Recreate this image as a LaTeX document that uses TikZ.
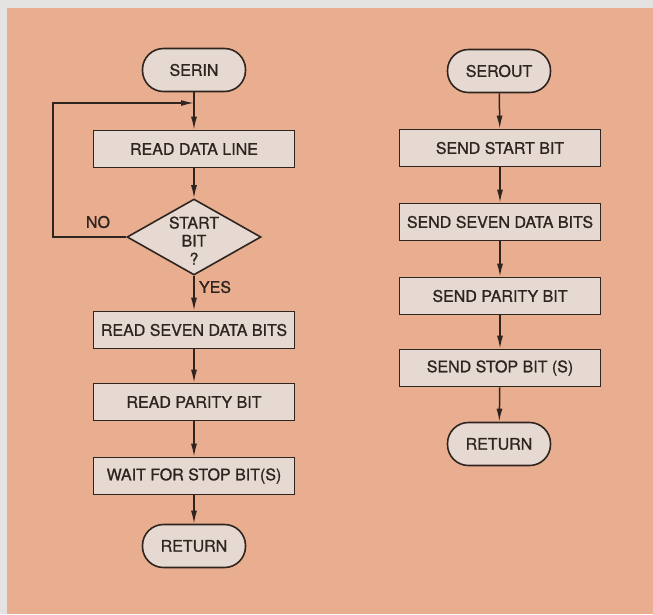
\documentclass[tikz,border=0pt]{standalone}
\usepackage{fontspec}
\setmainfont{TeX Gyre Heros}
\newfontfamily\letterfont{TeX Gyre Heros}[FakeBold=1]
\usetikzlibrary{arrows.meta, positioning, shapes.geometric}
\definecolor{pagegray}{HTML}{E5E3E1}
\definecolor{salmon}{HTML}{E9AE8F}
\definecolor{boxfill}{HTML}{E6D9D1}
\definecolor{inkdark}{HTML}{2E2420}

\tikzset{
  procbox/.style={draw=inkdark, fill=boxfill, line width=1.6pt, minimum width=201pt,
    minimum height=37pt, inner sep=0pt, text=inkdark, font=\letterfont\fontsize{16}{18.5}\selectfont},
  termbox/.style={draw=inkdark, fill=boxfill, line width=1.6pt, rounded corners=21pt,
    minimum width=103pt, minimum height=43pt, inner sep=0pt, text=inkdark,
    font=\letterfont\fontsize{16}{18.5}\selectfont},
  decbox/.style={diamond, draw=inkdark, fill=boxfill, line width=1.6pt, aspect=1.76,
    minimum width=134pt, minimum height=76pt, inner sep=-3pt, align=center, text=inkdark,
    font=\letterfont\fontsize{16}{18}\selectfont},
  branch/.style={text=inkdark, font=\letterfont\fontsize{16}{18.5}\selectfont},
  flow/.style={draw=inkdark, line width=1.5pt, -{Latex[length=13pt,width=6pt]}}
}

\begin{document}
\begin{tikzpicture}[x=1pt, y=-1pt]
\useasboundingbox (0,0) rectangle (653,614);
\fill[pagegray] (0,0) rectangle (653,614);
\fill[salmon] (7,8) rectangle (653,614);

% SERIN
\node[termbox] (serin) at (194,70) {SERIN};
\node[procbox] (readline) at (194,149) {READ DATA LINE};
\node[decbox] (startbit) at (194,237) {\rule{0pt}{19pt}START\\BIT\\?};
\node[procbox] (readseven) at (194,330) {READ SEVEN DATA BITS};
\node[procbox] (readparity) at (194,402) {READ PARITY BIT};
\node[procbox] (waitstop) at (194,476) {WAIT FOR STOP BIT(S)};
\node[termbox] (retin) at (194,546) {RETURN};
\node[branch] (lblno) at (98,222) {NO};
\node[branch] (lblyes) at (215,287) {YES};
\coordinate (loopin) at (194,103);

\draw[flow] (serin) -- (readline);
\draw[flow] (readline) -- (startbit);
\draw[flow] (startbit) -- (readseven);
\draw[flow] (readseven) -- (readparity);
\draw[flow] (readparity) -- (waitstop);
\draw[flow] (waitstop) -- (retin);
\draw[flow] (startbit.west) -- ++(-73,0) |- (loopin);

% SEROUT
\node[termbox] (serout) at (499,71) {SEROUT};
\node[procbox] (sendstart) at (500,148) {SEND START BIT};
\node[procbox] (sendseven) at (500,222) {SEND SEVEN DATA BITS};
\node[procbox] (sendparity) at (500,296) {SEND PARITY BIT};
\node[procbox] (sendstop) at (500,368) {SEND STOP BIT (S)};
\node[termbox] (retout) at (499,444) {RETURN};

\draw[flow] (serout) -- (sendstart);
\draw[flow] (sendstart) -- (sendseven);
\draw[flow] (sendseven) -- (sendparity);
\draw[flow] (sendparity) -- (sendstop);
\draw[flow] (sendstop) -- (retout);
\end{tikzpicture}
\end{document}
